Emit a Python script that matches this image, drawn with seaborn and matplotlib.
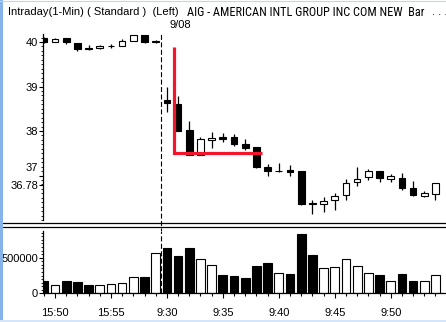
import numpy as np
import pandas as pd
import matplotlib
matplotlib.use("Agg")
import matplotlib.pyplot as plt
import matplotlib.transforms as mtransforms
from matplotlib import font_manager
from matplotlib.lines import Line2D
from matplotlib.patches import Rectangle
from matplotlib.ticker import FixedLocator, MultipleLocator
import seaborn as sns

# ---------------- data ----------------
times = ["15:49", "15:50", "15:51", "15:52", "15:53", "15:54", "15:55", "15:56",
         "15:57", "15:58", "15:59",
         "9:30", "9:31", "9:32", "9:33", "9:34", "9:35", "9:36", "9:37", "9:38",
         "9:39", "9:40", "9:41", "9:42", "9:43", "9:44", "9:45", "9:46", "9:47",
         "9:48", "9:49", "9:50", "9:51", "9:52", "9:53", "9:54"]
opens = [40.10, 40.01, 40.08, 39.98, 39.87, 39.86, 39.90, 39.90, 40.02, 40.15, 40.00,
         38.70, 38.61, 38.03, 37.47, 37.79, 37.86, 37.86, 37.71, 37.63,
         37.20, 37.10, 37.13, 37.09, 36.38, 36.36, 36.45, 36.57, 36.85,
         36.97, 37.10, 36.92, 36.95, 36.73, 36.53, 36.59]
highs = [40.12, 40.09, 40.10, 39.98, 39.93, 39.93, 39.96, 40.06, 40.15, 40.15, 40.04,
         39.00, 38.79, 38.23, 37.87, 37.98, 37.95, 37.93, 37.83, 37.65,
         37.25, 37.28, 37.24, 37.11, 36.46, 36.52, 36.61, 36.92, 37.19,
         37.15, 37.10, 37.03, 37.06, 36.88, 36.65, 36.83]
lows = [39.98, 40.00, 39.96, 39.80, 39.82, 39.85, 39.86, 39.90, 40.02, 39.97, 39.97,
        38.42, 38.01, 37.47, 37.47, 37.61, 37.76, 37.66, 37.58, 37.17,
        36.98, 37.07, 37.00, 36.33, 36.14, 36.19, 36.22, 36.44, 36.76,
        36.91, 36.85, 36.85, 36.67, 36.54, 36.51, 36.46]
closes = [40.00, 40.07, 40.01, 39.85, 39.85, 39.91, 39.91, 40.02, 40.15, 40.00, 40.03,
          38.63, 38.01, 37.47, 37.82, 37.85, 37.83, 37.70, 37.61, 37.20,
          37.09, 37.11, 37.07, 36.37, 36.37, 36.42, 36.55, 36.83, 36.92,
          37.10, 36.94, 36.98, 36.71, 36.56, 36.61, 36.83]
volumes = [173000, 112000, 173000, 159000, 117000, 117000, 131000, 145000, 229000,
           229000, 562000,
           636000, 524000, 636000, 482000, 397000, 257000, 247000, 219000, 388000,
           430000, 285000, 276000, 837000, 538000, 355000, 369000, 482000, 383000,
           285000, 257000, 173000, 271000, 173000, 173000, 257000]
price_ticks = [36.78, 37, 38, 39, 40]
price_tick_labels = ["36.78", "37", "38", "39", "40"]
vol_ticks = [0, 500000]
vol_tick_labels = ["0", "500000"]
time_labels = ["15:50", "15:55", "9:30", "9:35", "9:40", "9:45", "9:50"]
session_break = 10.5          # between 15:59 and 9:30
red_line_x = [11.6, 11.6, 19.5]
red_line_y = [39.88, 37.51, 37.51]

title_left = "Intraday(1-Min) ( Standard )  (Left)"
title_mid = "AIG - AMERICAN INTL GROUP INC COM NEW  Bar"
title_right = ". . ."
date_label = "9/08"

# ---------------- style ----------------
sns.set_theme(style="white")
plt.rcParams["font.family"] = ["Liberation Sans", "DejaVu Sans"]

installed = {f.name for f in font_manager.fontManager.ttflist}
narrow_family = None
for cand in ["Liberation Sans Narrow", "Arial Narrow", "Roboto Condensed",
             "Open Sans Condensed"]:
    if cand in installed:
        narrow_family = cand
        break

W, H = 446, 322
fig = plt.figure(figsize=(W / 100, H / 100), dpi=100)
fig.patch.set_facecolor("white")


def fx(px):
    return px / W


def fy(py):
    return 1 - py / H


ax_p = fig.add_axes([fx(43), fy(220), fx(446) - fx(43), fy(34) - fy(220)])
ax_v = fig.add_axes([fx(43), fy(293.3), fx(446) - fx(43), fy(231) - fy(293.3)])

df = pd.DataFrame({"time": times, "open": opens, "high": highs, "low": lows,
                   "close": closes, "volume": volumes})
df["dir"] = np.where(df["close"] >= df["open"], "up", "down")
xs = np.arange(len(df))
XLIM = (-0.07, 35.94)

# ---------------- volume panel (seaborn) ----------------
sns.barplot(data=df, x="time", y="volume", hue="dir", order=times,
            palette={"up": "white", "down": "black"}, dodge=False,
            width=0.78, edgecolor="black", linewidth=0.8, legend=False,
            ax=ax_v, saturation=1)
ax_v.set_xlim(*XLIM)
ax_v.set_ylim(0, 875000)
ax_v.set_xlabel("")
ax_v.set_ylabel("")
ax_v.set_facecolor("white")
for s in ["top", "right"]:
    ax_v.spines[s].set_visible(False)
for s in ["left", "bottom"]:
    ax_v.spines[s].set_color("black")
    ax_v.spines[s].set_linewidth(0.9)
maj_pos = [times.index(t) for t in time_labels]
ax_v.xaxis.set_major_locator(FixedLocator(maj_pos))
ax_v.set_xticklabels(time_labels)
ax_v.xaxis.set_minor_locator(FixedLocator(list(xs)))
ax_v.tick_params(axis="x", which="major", direction="out", length=3.8, width=0.8,
                 color="black", labelsize=8, labelcolor="black", pad=7, bottom=True)
ax_v.tick_params(axis="x", which="minor", direction="out", length=2, width=0.8,
                 color="black", bottom=True)
ax_v.set_yticks(vol_ticks)
ax_v.set_yticklabels(vol_tick_labels)
ax_v.yaxis.set_minor_locator(MultipleLocator(50000))
ax_v.tick_params(axis="y", which="major", direction="out", length=3, width=0.8,
                 color="black", labelsize=8, labelcolor="black", pad=0.5, left=True)
ax_v.tick_params(axis="y", which="minor", direction="out", length=1.3, width=0.6,
                 color="black", left=True)
ax_v.axvline(session_break, color="black", lw=0.8, dashes=(4.5, 2.2), zorder=5)

# ---------------- price panel (candles) ----------------
o = df["open"].to_numpy()
c = df["close"].to_numpy()
up = c >= o
ax_p.vlines(xs, df["low"], df["high"], color="black", lw=0.9, zorder=2)
heights = np.maximum(np.abs(c - o), 0.012)
ax_p.bar(xs, heights, bottom=np.minimum(o, c), width=0.6,
         color=np.where(up, "white", "black"), edgecolor="black",
         linewidth=0.8, zorder=3)
ax_p.set_xlim(*XLIM)
ax_p.set_ylim(36.0, 40.18)
ax_p.set_facecolor("white")
for s in ["top", "right", "bottom"]:
    ax_p.spines[s].set_visible(False)
ax_p.spines["left"].set_color("black")
ax_p.spines["left"].set_linewidth(0.9)
ax_p.set_xticks([])
ax_p.set_yticks(price_ticks)
ax_p.set_yticklabels(price_tick_labels)
ax_p.yaxis.set_minor_locator(MultipleLocator(0.1))
ax_p.tick_params(axis="y", which="major", direction="out", length=3, width=0.8,
                 color="black", labelsize=8, labelcolor="black", pad=0.5, left=True)
ax_p.tick_params(axis="y", which="minor", direction="out", length=1.3, width=0.6,
                 color="black", left=True)
# the "37" label is nudged up to clear "36.78", as in the source chart
for lbl in ax_p.get_yticklabels():
    if lbl.get_text() == "37":
        lbl.set_transform(lbl.get_transform() +
                          mtransforms.ScaledTranslation(0, 0.09, fig.dpi_scale_trans))
ax_p.axvline(session_break, ymin=-0.07, ymax=1, clip_on=False, color="black",
             lw=0.8, dashes=(4.5, 2.2), zorder=5)
ax_p.plot(red_line_x, red_line_y, color="#f2152b", lw=2.3,
          solid_joinstyle="miter", solid_capstyle="butt", zorder=6)

# ---------------- frame & texts ----------------
fig.add_artist(Line2D([fx(3), 1], [fy(223), fy(223)], color="black", lw=0.9))
fig.add_artist(Line2D([fx(3), 1], [fy(226.5), fy(226.5)], color="black", lw=0.9))
fig.add_artist(Rectangle((0, 0), fx(3), 1, transform=fig.transFigure,
                         color="#86b3ea", lw=0))
fig.add_artist(Rectangle((0, 0), 1, 2 / H, transform=fig.transFigure,
                         color="#d6e6f8", lw=0))
fig.add_artist(Line2D([0, 1], [fy(0.5), fy(0.5)], color="#c8d4e2", lw=0.8))

fig.text(fx(8), fy(12), title_left, fontsize=8, va="center", ha="left", color="black")
if narrow_family is not None:
    mid_kw = dict(family=[narrow_family, "DejaVu Sans"], fontsize=8.8)
else:
    mid_kw = dict(fontsize=6.6)
fig.text(fx(187), fy(12), title_mid, va="center", ha="left", color="black", **mid_kw)
fig.text(fx(432), fy(12), title_right, fontsize=8, va="center", ha="left", color="black")
fig.text(fx(180), fy(24.5), date_label, fontsize=8, va="center", ha="center", color="black")

fig.savefig("out.png", dpi=100, facecolor="white")
